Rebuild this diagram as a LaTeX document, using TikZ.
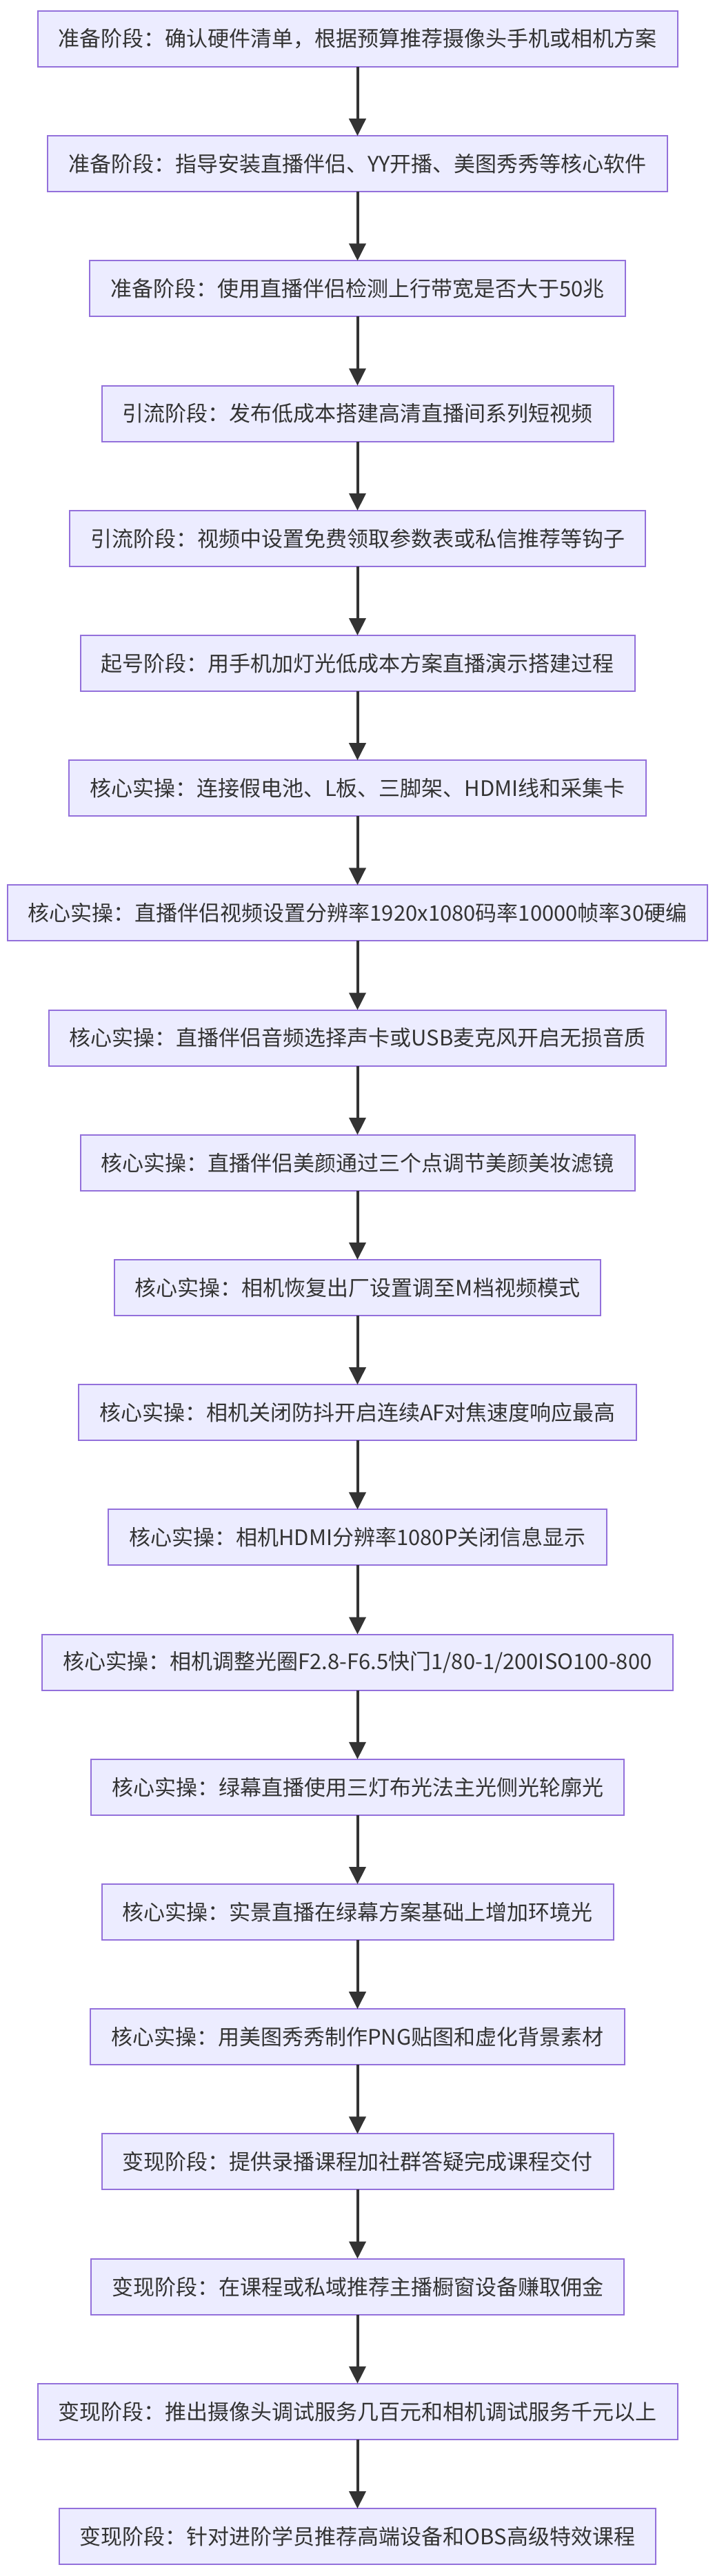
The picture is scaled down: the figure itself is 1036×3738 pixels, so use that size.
\documentclass[tikz,border=0pt]{standalone}
\usepackage{fontspec}
\usetikzlibrary{positioning,arrows.meta}

\newfontfamily\cjk{Noto Sans CJK SC}
\definecolor{boxfill}{HTML}{ECECFF}
\definecolor{boxline}{HTML}{9370DB}
\definecolor{inkgray}{HTML}{333333}

\tikzset{
    stagebox/.style={draw=boxline, fill=boxfill, line width=2pt, text=inkgray,
        font=\cjk\fontsize{31}{37}\selectfont, minimum height=81pt,
        inner xsep=30pt, inner ysep=0pt, outer sep=0pt},
    flow/.style={draw=inkgray, line width=4pt, -{Triangle[width=24pt,length=25pt]}}
}

\begin{document}
\begin{tikzpicture}[x=1pt, y=1pt, node distance=100.2pt]

    \useasboundingbox (0,0) rectangle (1036,-3738);

    % 1. PREPARATION
    \node[stagebox] (prep1) at (518.5,-56.5) {准备阶段：确认硬件清单，根据预算推荐摄像头手机或相机方案};
    \node[stagebox, below=of prep1] (prep2) {准备阶段：指导安装直播伴侣、YY开播、美图秀秀等核心软件};
    \node[stagebox, below=of prep2] (prep3) {准备阶段：使用直播伴侣检测上行带宽是否大于50兆};

    % 2. TRAFFIC
    \node[stagebox, below=of prep3] (lead1) {引流阶段：发布低成本搭建高清直播间系列短视频};
    \node[stagebox, below=of lead1] (lead2) {引流阶段：视频中设置免费领取参数表或私信推荐等钩子};

    % 3. START
    \node[stagebox, below=of lead2] (start1) {起号阶段：用手机加灯光低成本方案直播演示搭建过程};

    % 4. CORE PRACTICE
    \node[stagebox, below=of start1] (core1) {核心实操：连接假电池、L板、三脚架、HDMI线和采集卡};
    \node[stagebox, below=of core1] (core2) {核心实操：直播伴侣视频设置分辨率1920x1080码率10000帧率30硬编};
    \node[stagebox, below=of core2] (core3) {核心实操：直播伴侣音频选择声卡或USB麦克风开启无损音质};
    \node[stagebox, below=of core3] (core4) {核心实操：直播伴侣美颜通过三个点调节美颜美妆滤镜};
    \node[stagebox, below=of core4] (core5) {核心实操：相机恢复出厂设置调至M档视频模式};
    \node[stagebox, below=of core5] (core6) {核心实操：相机关闭防抖开启连续AF对焦速度响应最高};
    \node[stagebox, below=of core6] (core7) {核心实操：相机HDMI分辨率1080P关闭信息显示};
    \node[stagebox, below=of core7] (core8) {核心实操：相机调整光圈F2.8-F6.5快门1/80-1/200ISO100-800};
    \node[stagebox, below=of core8] (core9) {核心实操：绿幕直播使用三灯布光法主光侧光轮廓光};
    \node[stagebox, below=of core9] (core10) {核心实操：实景直播在绿幕方案基础上增加环境光};
    \node[stagebox, below=of core10] (core11) {核心实操：用美图秀秀制作PNG贴图和虚化背景素材};

    % 5. MONETIZATION
    \node[stagebox, below=of core11] (earn1) {变现阶段：提供录播课程加社群答疑完成课程交付};
    \node[stagebox, below=of earn1] (earn2) {变现阶段：在课程或私域推荐主播橱窗设备赚取佣金};
    \node[stagebox, below=of earn2] (earn3) {变现阶段：推出摄像头调试服务几百元和相机调试服务千元以上};
    \node[stagebox, below=of earn3] (earn4) {变现阶段：针对进阶学员推荐高端设备和OBS高级特效课程};

    % ARROWS
    \draw[flow] (prep1) -- (prep2);
    \draw[flow] (prep2) -- (prep3);
    \draw[flow] (prep3) -- (lead1);
    \draw[flow] (lead1) -- (lead2);
    \draw[flow] (lead2) -- (start1);
    \draw[flow] (start1) -- (core1);
    \draw[flow] (core1) -- (core2);
    \draw[flow] (core2) -- (core3);
    \draw[flow] (core3) -- (core4);
    \draw[flow] (core4) -- (core5);
    \draw[flow] (core5) -- (core6);
    \draw[flow] (core6) -- (core7);
    \draw[flow] (core7) -- (core8);
    \draw[flow] (core8) -- (core9);
    \draw[flow] (core9) -- (core10);
    \draw[flow] (core10) -- (core11);
    \draw[flow] (core11) -- (earn1);
    \draw[flow] (earn1) -- (earn2);
    \draw[flow] (earn2) -- (earn3);
    \draw[flow] (earn3) -- (earn4);

\end{tikzpicture}
\end{document}
